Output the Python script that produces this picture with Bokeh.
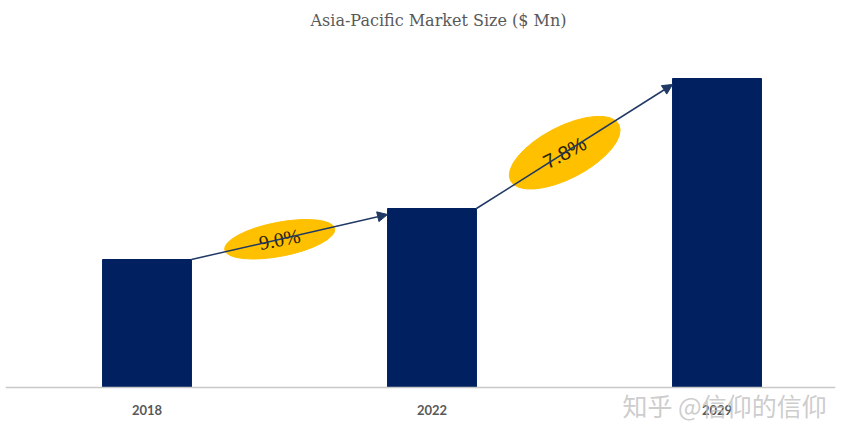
from bokeh.plotting import figure
from bokeh.models import Range1d, Arrow, NormalHead, Label, Span
from bokeh.embed import file_html
from bokeh.resources import INLINE
from bokeh.core.properties import value

# ---- data ----
title_text = "Asia-Pacific Market Size ($ Mn)"
years = ["2018", "2022", "2029"]
market_size = [128, 179, 309]          # relative bar heights
cagr_labels = ["9.0%", "7.8%"]
watermark = "知乎 @信仰的信仰"

# ---- style ----
NAVY = "#002060"
ARROW = "#1F3864"
YELLOW = "#FFC000"
GRAY = "#595959"
bar_w = 0.312

xs = list(range(len(years)))

p = figure(width=854, height=437, output_backend="svg", toolbar_location=None,
           x_range=Range1d(-0.4965, 2.4158), y_range=Range1d(-50, 387),
           x_axis_location=None, y_axis_location=None,
           min_border_left=5, min_border_right=19, min_border_top=0, min_border_bottom=0)
p.outline_line_color = None
p.grid.visible = False
p.background_fill_color = "white"
p.border_fill_color = "white"

# baseline (category axis line)
p.add_layout(Span(location=0, dimension="width", line_color="#c8c8c8", line_width=1.5))

p.vbar(x=xs, top=market_size, bottom=0, width=bar_w, color=NAVY)

# category labels under the baseline
p.text(x=xs, y=[-22] * len(xs), text=years, text_align="center", text_baseline="middle",
       text_font=value("Lato"), text_font_style="bold", text_font_size="13px",
       text_color=GRAY)

# growth arrows with CAGR ellipses
ell_w = [112, 122]
ell_h = [34, 52]
angles = [0.19, 0.48]
fonts = ["Liberation Serif", "Liberation Sans"]
fsizes = ["20px", "20px"]
for i in range(len(cagr_labels)):
    x0 = xs[i] + bar_w / 2
    y0 = market_size[i]
    x1 = xs[i + 1] - bar_w / 2
    y1 = market_size[i + 1] - 6
    p.add_layout(Arrow(end=NormalHead(size=10, fill_color=ARROW, line_color=ARROW),
                       x_start=x0, y_start=y0, x_end=x1, y_end=y1,
                       line_color=ARROW, line_width=1.5))
    t = 0.45
    cx = x0 + t * (x1 - x0)
    cy = y0 + t * (y1 - y0)
    p.ellipse(x=[cx], y=[cy], width=ell_w[i], height=ell_h[i],
              width_units="screen", height_units="screen",
              angle=angles[i], fill_color=YELLOW, line_color=YELLOW)
    p.text(x=[cx], y=[cy], text=[cagr_labels[i]], angle=angles[i],
           text_align="center", text_baseline="middle",
           text_font=value(fonts[i]), text_font_size=fsizes[i],
           text_color="#2b2200")

# Label screen units are relative to the frame's bottom-left corner
p.add_layout(Label(x=433, y=417, x_units="screen", y_units="screen",
                   text=title_text, text_align="center", text_baseline="middle",
                   text_font="DejaVu Serif", text_font_size="16px",
                   text_color=GRAY))

p.add_layout(Label(x=617, y=33, x_units="screen", y_units="screen",
                   text=watermark, text_align="left", text_baseline="middle",
                   text_font="Noto Sans CJK SC", text_font_size="25px",
                   text_color="#c0c0c0", text_alpha=0.8))

open("out.html", "w").write(file_html(p, INLINE))
